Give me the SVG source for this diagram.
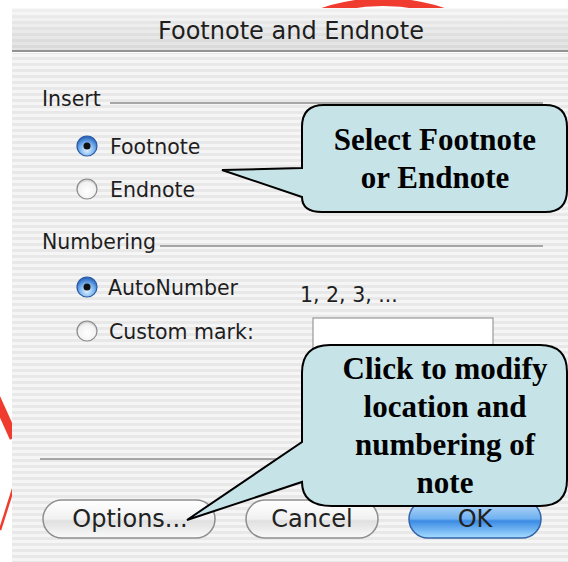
<svg xmlns="http://www.w3.org/2000/svg" width="568" height="562" viewBox="0 0 568 562">
<defs>
<pattern id="stripes" width="6" height="6" patternUnits="userSpaceOnUse"><rect width="6" height="3" fill="#f5f5f5"/><rect y="3" width="6" height="3" fill="#e8e8e8"/></pattern>
<linearGradient id="titleShade" x1="0" y1="0" x2="0" y2="1"><stop offset="0" stop-color="#ffffff" stop-opacity="0.35"/><stop offset="1" stop-color="#aaaaaa" stop-opacity="0.25"/></linearGradient>
<radialGradient id="radioOn" cx="0.5" cy="0.7" r="0.65"><stop offset="0" stop-color="#e2f2ff"/><stop offset="0.55" stop-color="#7ab4f0"/><stop offset="1" stop-color="#2c66bd"/></radialGradient>
<radialGradient id="radioOff" cx="0.5" cy="0.6" r="0.62"><stop offset="0" stop-color="#ffffff"/><stop offset="0.7" stop-color="#f2f2f2"/><stop offset="1" stop-color="#b8b8b8"/></radialGradient>
<linearGradient id="btn" x1="0" y1="0" x2="0" y2="1"><stop offset="0" stop-color="#ffffff"/><stop offset="0.5" stop-color="#f1f1f1"/><stop offset="0.55" stop-color="#e0e0e0"/><stop offset="1" stop-color="#fafafa"/></linearGradient>
<linearGradient id="btnBlue" x1="0" y1="0" x2="0" y2="1"><stop offset="0" stop-color="#c2e0fb"/><stop offset="0.5" stop-color="#6fb0f0"/><stop offset="0.55" stop-color="#3a8ae4"/><stop offset="1" stop-color="#a6dcff"/></linearGradient>
</defs>
<style>
.lbl{font-family:"DejaVu Sans","Liberation Sans",sans-serif;font-size:20.5px;fill:#1e1e1e}
.title{font-size:24px;text-anchor:middle}
.btxt{font-family:"DejaVu Sans","Liberation Sans",sans-serif;font-size:24px;fill:#222;text-anchor:middle}
.call{fill:#c6e4e8;stroke:#000;stroke-width:2;stroke-linejoin:miter}
.ctxt{font-family:"Liberation Serif","Times New Roman",serif;font-weight:bold;font-size:31px;fill:#000;text-anchor:middle}
.grp{stroke:#8c8c8c;stroke-width:1.5}
.red{fill:none;stroke:#f03c2e}
.on{fill:url(#radioOn);stroke:#2a5aa4;stroke-width:1.2}
.off{fill:url(#radioOff);stroke:#8a8a8a;stroke-width:1.2}
.pill{fill:url(#btn);stroke:#8e8e8e;stroke-width:1.5}
</style>
<rect width="568" height="562" fill="#ffffff"/>
<g id="background-marks">
<circle class="red" cx="383" cy="192" r="190" stroke-width="8"/>
<line class="red" x1="-4" y1="398" x2="14" y2="438" stroke-width="9"/>
<line class="red" x1="0" y1="530" x2="14" y2="486" stroke-width="2.5"/>
</g>
<g id="dialog">
<rect x="12" y="8" width="556" height="554" fill="url(#stripes)"/>
<rect x="12" y="8" width="556" height="43" fill="url(#titleShade)"/>
<line x1="12" y1="51" x2="568" y2="51" stroke="#777" stroke-width="1.5"/>
<line x1="12" y1="52.5" x2="568" y2="52.5" stroke="#fff" stroke-width="1"/>
<text class="lbl title" x="291" y="39">Footnote and Endnote</text>
<text class="lbl" x="42" y="106">Insert</text>
<line class="grp" x1="110" y1="103" x2="543" y2="103"/>
<text class="lbl" x="42" y="249">Numbering</text>
<line class="grp" x1="160" y1="246" x2="543" y2="246"/>
<line class="grp" x1="40" y1="459" x2="543" y2="459"/>
</g>
<g id="radio-footnote"><circle class="on" cx="87" cy="146" r="10"/><circle cx="87" cy="146" r="3.5" fill="#111"/><text class="lbl" x="110" y="154">Footnote</text></g>
<g id="radio-endnote"><circle class="off" cx="87" cy="189" r="10"/><text class="lbl" x="110" y="197">Endnote</text></g>
<g id="radio-autonumber"><circle class="on" cx="87" cy="287" r="10"/><circle cx="87" cy="287" r="3.5" fill="#111"/><text class="lbl" x="108" y="295">AutoNumber</text><text class="lbl" x="300" y="302">1, 2, 3, ...</text></g>
<g id="radio-custom"><circle class="off" cx="87" cy="331" r="10"/><text class="lbl" x="109" y="339">Custom mark:</text><rect x="313" y="318" width="180" height="60" fill="#fff" stroke="#999" stroke-width="1.2"/></g>
<g id="btn-options"><rect class="pill" x="43" y="500" width="172" height="38" rx="19"/><text class="btxt" x="130" y="527">Options...</text></g>
<g id="btn-cancel"><rect class="pill" x="246" y="500" width="132" height="38" rx="19"/><text class="btxt" x="312" y="527">Cancel</text></g>
<g id="btn-ok"><rect x="409" y="500" width="132" height="38" rx="19" fill="url(#btnBlue)" stroke="#3563a8" stroke-width="1.5"/><text class="btxt" x="475" y="527">OK</text></g>
<g id="connectors"></g>
<g id="callout-select">
<path class="call" d="M324,105 H545 Q567,105 567,127 V190 Q567,212 545,212 H322 Q302,212 302,197 L222,170 L302,168 V127 Q302,105 324,105 Z"/>
<text class="ctxt" x="435" y="150">Select Footnote</text>
<text class="ctxt" x="435" y="188">or Endnote</text>
</g>
<g id="callout-options">
<path class="call" d="M330,345 H540 Q567,345 567,372 V480 Q567,506 540,506 H332 Q302,506 302,482 L187,520 L302,442 V373 Q302,345 330,345 Z"/>
<text class="ctxt" x="445" y="379">Click to modify</text>
<text class="ctxt" x="445" y="417">location and</text>
<text class="ctxt" x="445" y="455">numbering of</text>
<text class="ctxt" x="445" y="493">note</text>
</g>
</svg>
